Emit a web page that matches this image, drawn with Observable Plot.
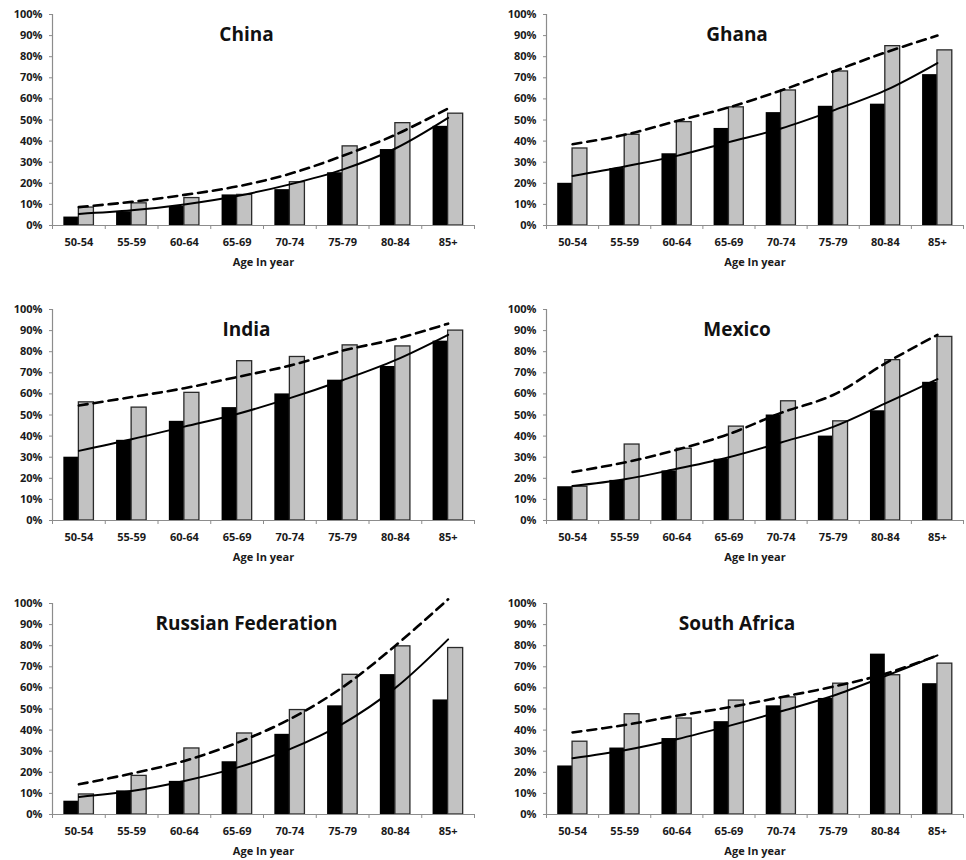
<!DOCTYPE html>
<html>
<head>
<meta charset="utf-8">
<script src="https://cdn.jsdelivr.net/npm/d3@7"></script>
<script src="https://cdn.jsdelivr.net/npm/@observablehq/plot@0.6"></script>
<style>
  body { margin: 0; background: #fff; }
  #wrap { position: relative; width: 966px; height: 860px; overflow: hidden; }
  .panel { position: absolute; }
</style>
</head>
<body>
<div id="wrap"></div>
<script>
// ---- Data ----
const ageGroups = ["50-54", "55-59", "60-64", "65-69", "70-74", "75-79", "80-84", "85+"];
const yTickValues = [0, 0.1, 0.2, 0.3, 0.4, 0.5, 0.6, 0.7, 0.8, 0.9, 1.0];
const axisTitle = "Age In year";

const chinaBlack = [0.04, 0.065, 0.09, 0.145, 0.17, 0.25, 0.36, 0.47];
const chinaGray = [0.085, 0.105, 0.13, 0.145, 0.205, 0.375, 0.485, 0.53];
const chinaTrendBlack = [0.055, 0.072, 0.10, 0.14, 0.195, 0.265, 0.365, 0.51];
const chinaTrendGray = [0.087, 0.112, 0.145, 0.185, 0.245, 0.33, 0.43, 0.555];

const ghanaBlack = [0.20, 0.27, 0.34, 0.46, 0.535, 0.565, 0.575, 0.715];
const ghanaGray = [0.365, 0.43, 0.49, 0.56, 0.64, 0.73, 0.85, 0.83];
const ghanaTrendBlack = [0.235, 0.28, 0.33, 0.395, 0.46, 0.545, 0.64, 0.77];
const ghanaTrendGray = [0.385, 0.43, 0.495, 0.56, 0.64, 0.73, 0.82, 0.90];

const indiaBlack = [0.30, 0.38, 0.47, 0.535, 0.60, 0.665, 0.73, 0.85];
const indiaGray = [0.56, 0.535, 0.605, 0.755, 0.775, 0.83, 0.825, 0.90];
const indiaTrendBlack = [0.33, 0.385, 0.445, 0.505, 0.58, 0.665, 0.76, 0.88];
const indiaTrendGray = [0.545, 0.585, 0.627, 0.68, 0.734, 0.805, 0.86, 0.933];

const mexicoBlack = [0.16, 0.19, 0.235, 0.29, 0.50, 0.40, 0.52, 0.655];
const mexicoGray = [0.16, 0.36, 0.34, 0.445, 0.565, 0.47, 0.76, 0.87];
const mexicoTrendBlack = [0.163, 0.195, 0.245, 0.30, 0.37, 0.444, 0.555, 0.67];
const mexicoTrendGray = [0.23, 0.275, 0.335, 0.41, 0.51, 0.595, 0.745, 0.88];

const russiaBlack = [0.063, 0.112, 0.157, 0.25, 0.38, 0.515, 0.663, 0.543];
const russiaGray = [0.095, 0.183, 0.313, 0.384, 0.495, 0.662, 0.797, 0.789];
const russiaTrendBlack = [0.083, 0.111, 0.159, 0.222, 0.31, 0.43, 0.60, 0.83];
const russiaTrendGray = [0.143, 0.194, 0.254, 0.34, 0.452, 0.603, 0.80, 1.02];

const southAfricaBlack = [0.23, 0.315, 0.36, 0.44, 0.515, 0.55, 0.76, 0.62];
const southAfricaGray = [0.345, 0.475, 0.455, 0.54, 0.555, 0.62, 0.66, 0.715];
const southAfricaTrendBlack = [0.267, 0.305, 0.357, 0.42, 0.489, 0.563, 0.656, 0.754];
const southAfricaTrendGray = [0.389, 0.424, 0.468, 0.508, 0.556, 0.606, 0.667, 0.754];

const panels = [
  {title: "China", black: chinaBlack, gray: chinaGray, tb: chinaTrendBlack, tg: chinaTrendGray, col: 0, row: 0},
  {title: "Ghana", black: ghanaBlack, gray: ghanaGray, tb: ghanaTrendBlack, tg: ghanaTrendGray, col: 1, row: 0},
  {title: "India", black: indiaBlack, gray: indiaGray, tb: indiaTrendBlack, tg: indiaTrendGray, col: 0, row: 1},
  {title: "Mexico", black: mexicoBlack, gray: mexicoGray, tb: mexicoTrendBlack, tg: mexicoTrendGray, col: 1, row: 1},
  {title: "Russian Federation", black: russiaBlack, gray: russiaGray, tb: russiaTrendBlack, tg: russiaTrendGray, col: 0, row: 2},
  {title: "South Africa", black: southAfricaBlack, gray: southAfricaGray, tb: southAfricaTrendBlack, tg: southAfricaTrendGray, col: 1, row: 2}
];

// ---- Layout ----
const rowTops = [0, 295, 589];
const font = "'Open Sans', 'DejaVu Sans', sans-serif";
const barW = 0.285; // fraction of a category slot

const wrap = document.getElementById("wrap");

for (const p of panels) {
  const left = p.col === 0;
  const ml = left ? 52 : 63;
  const mr = left ? 9 : 3;
  const idx = ageGroups.map((_, i) => i);
  const blackBars = idx.map(i => ({x1: i + 0.5 - barW, x2: i + 0.5, y: p.black[i]}));
  const grayBars = idx.map(i => ({x1: i + 0.5, x2: i + 0.5 + barW, y: p.gray[i]}));
  const trendB = idx.map(i => ({x: i + 0.5, y: p.tb[i]}));
  const trendG = idx.map(i => ({x: i + 0.5, y: p.tg[i]}));

  const chart = Plot.plot({
    width: 483,
    height: 280,
    marginTop: 14,
    marginBottom: 55,
    marginLeft: ml,
    marginRight: mr,
    style: {fontFamily: font, fontSize: "11px", fontWeight: "bold", color: "#1a1a1a", background: "#fff", overflow: "visible"},
    x: {type: "linear", domain: [0, 8]},
    y: {domain: [0, 1]},
    marks: [
      Plot.rectY(blackBars, {x1: "x1", x2: "x2", y: "y", fill: "#000"}),
      Plot.rectY(grayBars, {x1: "x1", x2: "x2", y: "y", fill: "#c2c2c2", stroke: "#2a2a2a", strokeWidth: 1.3}),
      Plot.ruleX([0], {stroke: "#8c8c8c", strokeWidth: 1.2}),
      Plot.ruleY([0], {stroke: "#8c8c8c", strokeWidth: 1.2}),
      Plot.axisY({ticks: yTickValues, tickFormat: d3.format(".0%"), tickSize: 3, tickPadding: 7,
                  stroke: "#8c8c8c", fill: "#1a1a1a", label: null}),
      Plot.axisX({ticks: d3.range(0, 9), tickSize: 4, tickFormat: () => "", stroke: "#8c8c8c", label: null}),
      Plot.axisX({ticks: idx.map(i => i + 0.5), tickSize: 0, tickPadding: 13,
                  tickFormat: d => ageGroups[Math.floor(d)], fill: "#1a1a1a", label: null}),
      Plot.line(trendB, {x: "x", y: "y", curve: "catmull-rom", stroke: "#000", strokeWidth: 2}),
      Plot.line(trendG, {x: "x", y: "y", curve: "catmull-rom", stroke: "#000", strokeWidth: 2.6, strokeDasharray: "9,6"}),
      Plot.text([p.title], {frameAnchor: "top", dx: left ? -17 : -18, dy: 13, fontSize: 19, fontWeight: "bold", fill: "#111"}),
      Plot.text([axisTitle], {frameAnchor: "bottom", dy: 40, fontSize: 11, fontWeight: "bold", fill: "#1a1a1a"})
    ]
  });
  chart.classList.add("panel");
  chart.style.left = (p.col * 483) + "px";
  chart.style.top = rowTops[p.row] + "px";
  wrap.appendChild(chart);
}
</script>
</body>
</html>
